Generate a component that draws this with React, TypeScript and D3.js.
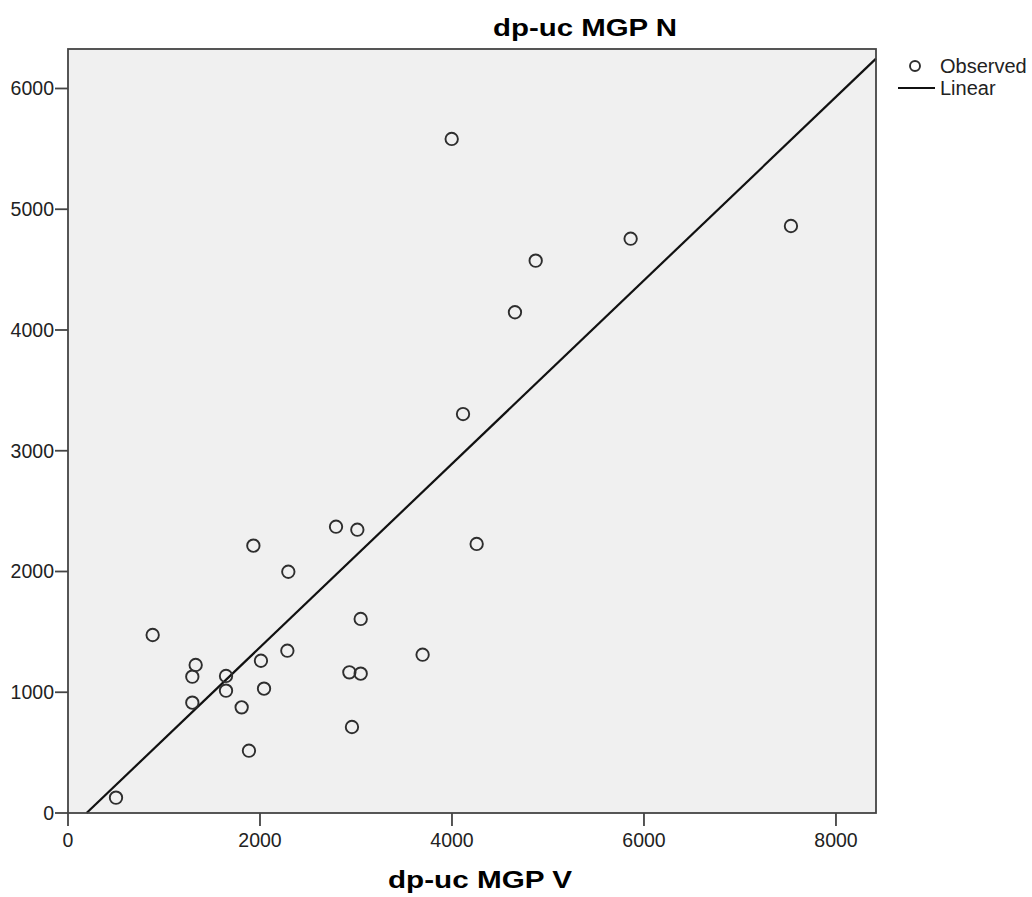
import * as d3 from "d3"

// values
const observedV = [500, 882, 1330, 1295, 1646, 1646, 1295, 1809, 1885, 1931, 2010, 2042, 2285, 2295, 2792, 3014, 3049, 2931, 3049, 2958, 3694, 4257, 4115, 4656, 4872, 5861, 3997, 7531]
const observedN = [127, 1474, 1226, 1129, 1135, 1013, 914, 875, 516, 2214, 1261, 1030, 1344, 1998, 2371, 2346, 1607, 1165, 1154, 712, 1311, 2228, 3304, 4147, 4574, 4756, 5582, 4861]

const xTicks = [0, 2000, 4000, 6000, 8000]
const yTicks = [0, 1000, 2000, 3000, 4000, 5000, 6000]
const xDomain = [0, 8417]
const yDomain = [0, 6327]

const xTitle = "dp-uc MGP V"
const yTitle = "dp-uc MGP N"
const legendLabels = ["Observed", "Linear"]

const font = "'Liberation Sans', Arial, sans-serif"
const ink = "#2e2e2e"

const App = () => {
    const width = 1032
    const height = 897
    const left = 68, right = 876, top = 49, bottom = 813

    const x = d3.scaleLinear().domain(xDomain).range([left, right])
    const y = d3.scaleLinear().domain(yDomain).range([bottom, top])

    // least squares line through the observed points
    const mx = d3.mean(observedV)
    const my = d3.mean(observedN)
    const slope = d3.sum(observedV, (v, i) => (v - mx) * (observedN[i] - my)) / d3.sum(observedV, v => (v - mx) ** 2)
    const intercept = my - slope * mx
    const v0 = Math.max(xDomain[0], (yDomain[0] - intercept) / slope)
    const v1 = Math.min(xDomain[1], (yDomain[1] - intercept) / slope)
    const fit = d3.line()([[x(v0), y(intercept + slope * v0)], [x(v1), y(intercept + slope * v1)]])

    return (
        <svg width={width} height={height} style={{ position: "absolute", left: 0, top: 0, background: "#fff" }}
            fontFamily={font}>
            <rect x={left} y={top} width={right - left} height={bottom - top} fill="#f0f0f0" />
            <path d={fit} stroke="#111" strokeWidth={2.2} fill="none" />
            {observedV.map((v, i) => (
                <circle key={i} cx={x(v)} cy={y(observedN[i])} r={6.2} fill="none" stroke={ink} strokeWidth={1.9} />
            ))}
            <rect x={left} y={top} width={right - left} height={bottom - top} fill="none" stroke="#444" strokeWidth={1.8} />

            {xTicks.map(t => (
                <g key={t} transform={`translate(${x(t)},${bottom})`}>
                    <line y2={13} stroke="#444" strokeWidth={1.8} />
                    <text y={34} textAnchor="middle" fontSize={19.5} fill="#222">{t}</text>
                </g>
            ))}
            {yTicks.map(t => (
                <g key={t} transform={`translate(${left},${y(t)})`}>
                    <line x2={-13} stroke="#444" strokeWidth={1.8} />
                    <text x={-14} dy="0.35em" textAnchor="end" fontSize={19.5} fill="#222">{t}</text>
                </g>
            ))}

            <text x={585} y={36} textAnchor="middle" fontSize={23} fontWeight="bold" fill="#000"
                textLength={184} lengthAdjust="spacingAndGlyphs">{yTitle}</text>
            <text x={480} y={888} textAnchor="middle" fontSize={23} fontWeight="bold" fill="#000"
                textLength={184} lengthAdjust="spacingAndGlyphs">{xTitle}</text>

            <g>
                <circle cx={915} cy={66} r={5} fill="none" stroke={ink} strokeWidth={1.9} />
                <text x={940} y={73} fontSize={20} fill="#222">{legendLabels[0]}</text>
                <line x1={898} x2={935} y1={88} y2={88} stroke="#111" strokeWidth={2.2} />
                <text x={940} y={95} fontSize={20} fill="#222">{legendLabels[1]}</text>
            </g>
        </svg>
    )
}

export default App
